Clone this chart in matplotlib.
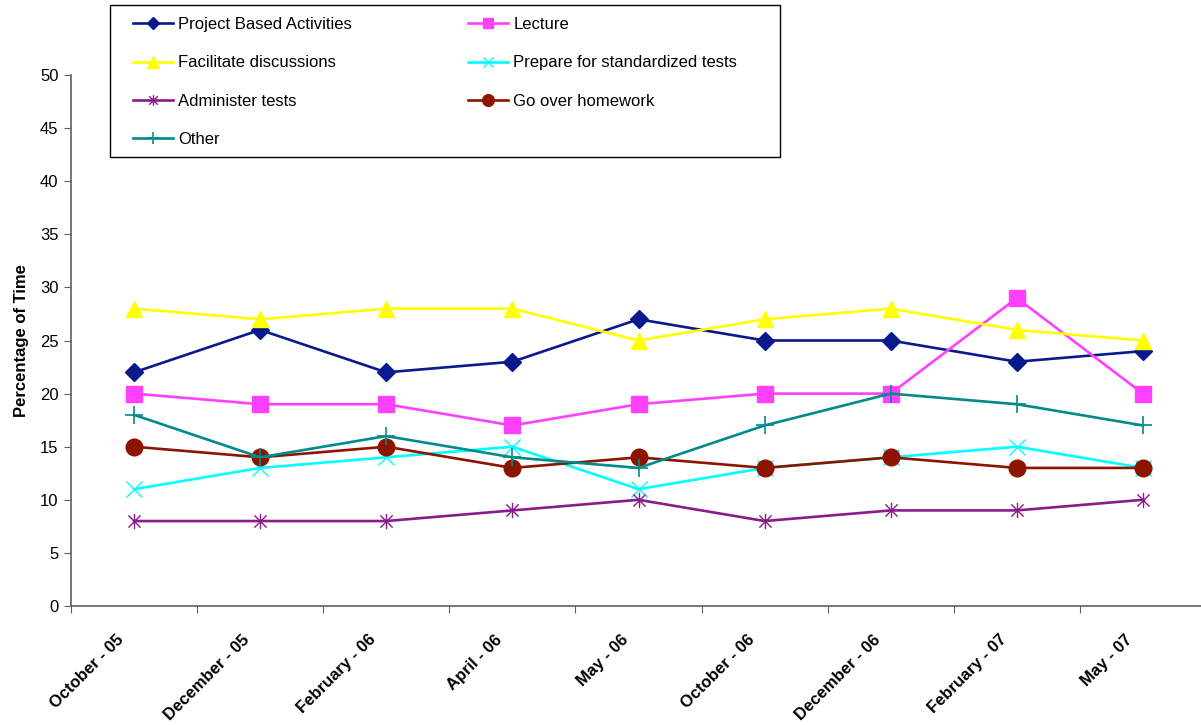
import numpy as np
import matplotlib
matplotlib.use("Agg")
import matplotlib.pyplot as plt
import matplotlib.transforms as mtransforms
from matplotlib.patches import Rectangle
from matplotlib.path import Path

plt.rcParams['font.family'] = ['Liberation Sans', 'DejaVu Sans']

months = ['October - 05', 'December - 05', 'February - 06', 'April - 06', 'May - 06',
          'October - 06', 'December - 06', 'February - 07', 'May - 07']

project = [22, 26, 22, 23, 27, 25, 25, 23, 24]
lecture = [20, 19, 19, 17, 19, 20, 20, 29, 20]
discuss = [28, 27, 28, 28, 25, 27, 28, 26, 25]
prepare = [11, 13, 14, 15, 11, 13, 14, 15, 13]
administer = [8, 8, 8, 9, 10, 8, 9, 9, 10]
homework = [15, 14, 15, 13, 14, 13, 14, 13, 13]
other = [18, 14, 16, 14, 13, 17, 20, 19, 17]

# x with a vertical bar, like the Excel star marker
star = Path([(-1, -1), (1, 1), (-1, 1), (1, -1), (0, -1.25), (0, 1.25)],
            [Path.MOVETO, Path.LINETO, Path.MOVETO, Path.LINETO, Path.MOVETO, Path.LINETO])

W, H = 1201, 725
fig = plt.figure(figsize=(W / 100, H / 100), dpi=100)
ax = fig.add_axes([71 / W, 1 - 606 / H, 1135 / W, 531 / H])

x = np.arange(len(months))
lw = 1.9
h_proj, = ax.plot(x, project, '-', color='#0a1a8c', lw=lw, marker='D', ms=9,
                  label='Project Based Activities')
h_lec, = ax.plot(x, lecture, '-', color='#ff40ff', lw=lw, marker='s', ms=11,
                 label='Lecture')
h_disc, = ax.plot(x, discuss, '-', color='#ffff00', lw=lw, marker='^', ms=12,
                  label='Facilitate discussions')
h_prep, = ax.plot(x, prepare, '-', color='#00ffff', lw=lw, marker='x', ms=11, mew=1,
                  label='Prepare for standardized tests')
h_adm, = ax.plot(x, administer, '-', color='#8b1a8b', lw=lw, marker=star, ms=11, mew=1,
                 label='Administer tests')
h_hw, = ax.plot(x, homework, '-', color='#8c1400', lw=lw, marker='o', ms=12,
                label='Go over homework')
h_oth, = ax.plot(x, other, '-', color='#008b8b', lw=lw, marker='+', ms=13, mew=1.2,
                 label='Other')

ax.set_xlim(-0.5, 8.5)
ax.set_ylim(0, 50)
ax.set_yticks(np.arange(0, 51, 5))

# category labels, drawn as text below the axis (ticks sit between categories)
ax.set_xticks(np.arange(-0.5, 8.6, 1))
ax.set_xticklabels([])
ax.tick_params(axis='x', length=5, color='#606060')
offset = mtransforms.ScaledTranslation(-18 / 100, -26 / 100, fig.dpi_scale_trans)
for xi, m in zip(x, months):
    ax.text(xi, 0, m, transform=ax.get_xaxis_transform() + offset,
            rotation=45, ha='right', va='top', rotation_mode='anchor',
            fontsize=12, fontweight='bold')

ax.tick_params(axis='y', length=5, color='#606060', labelsize=12, pad=4)

for s in ['top', 'right']:
    ax.spines[s].set_visible(False)
for s in ['left', 'bottom']:
    ax.spines[s].set_color('#606060')
    ax.spines[s].set_linewidth(1.2)

ax.set_ylabel('Percentage of Time', fontsize=12, fontweight='bold', labelpad=8)

# legend box (Excel style, wider than its contents)
fig.patches.append(Rectangle((110 / W, 1 - 157 / H), 670 / W, 152 / H,
                             transform=fig.transFigure, fill=False,
                             edgecolor='black', linewidth=1.0))

handles = [h_proj, h_disc, h_adm, h_oth, h_lec, h_prep, h_hw]
leg = fig.legend(handles=handles, ncol=2, loc='upper left',
                 bbox_to_anchor=(133 / W, 1 - 17 / H), bbox_transform=fig.transFigure,
                 fontsize=12, frameon=False,
                 labelspacing=1.4, handlelength=2.4, handletextpad=0.3,
                 columnspacing=7.0, borderpad=0, borderaxespad=0, markerscale=0.7)

fig.savefig('out.png', dpi=100)
